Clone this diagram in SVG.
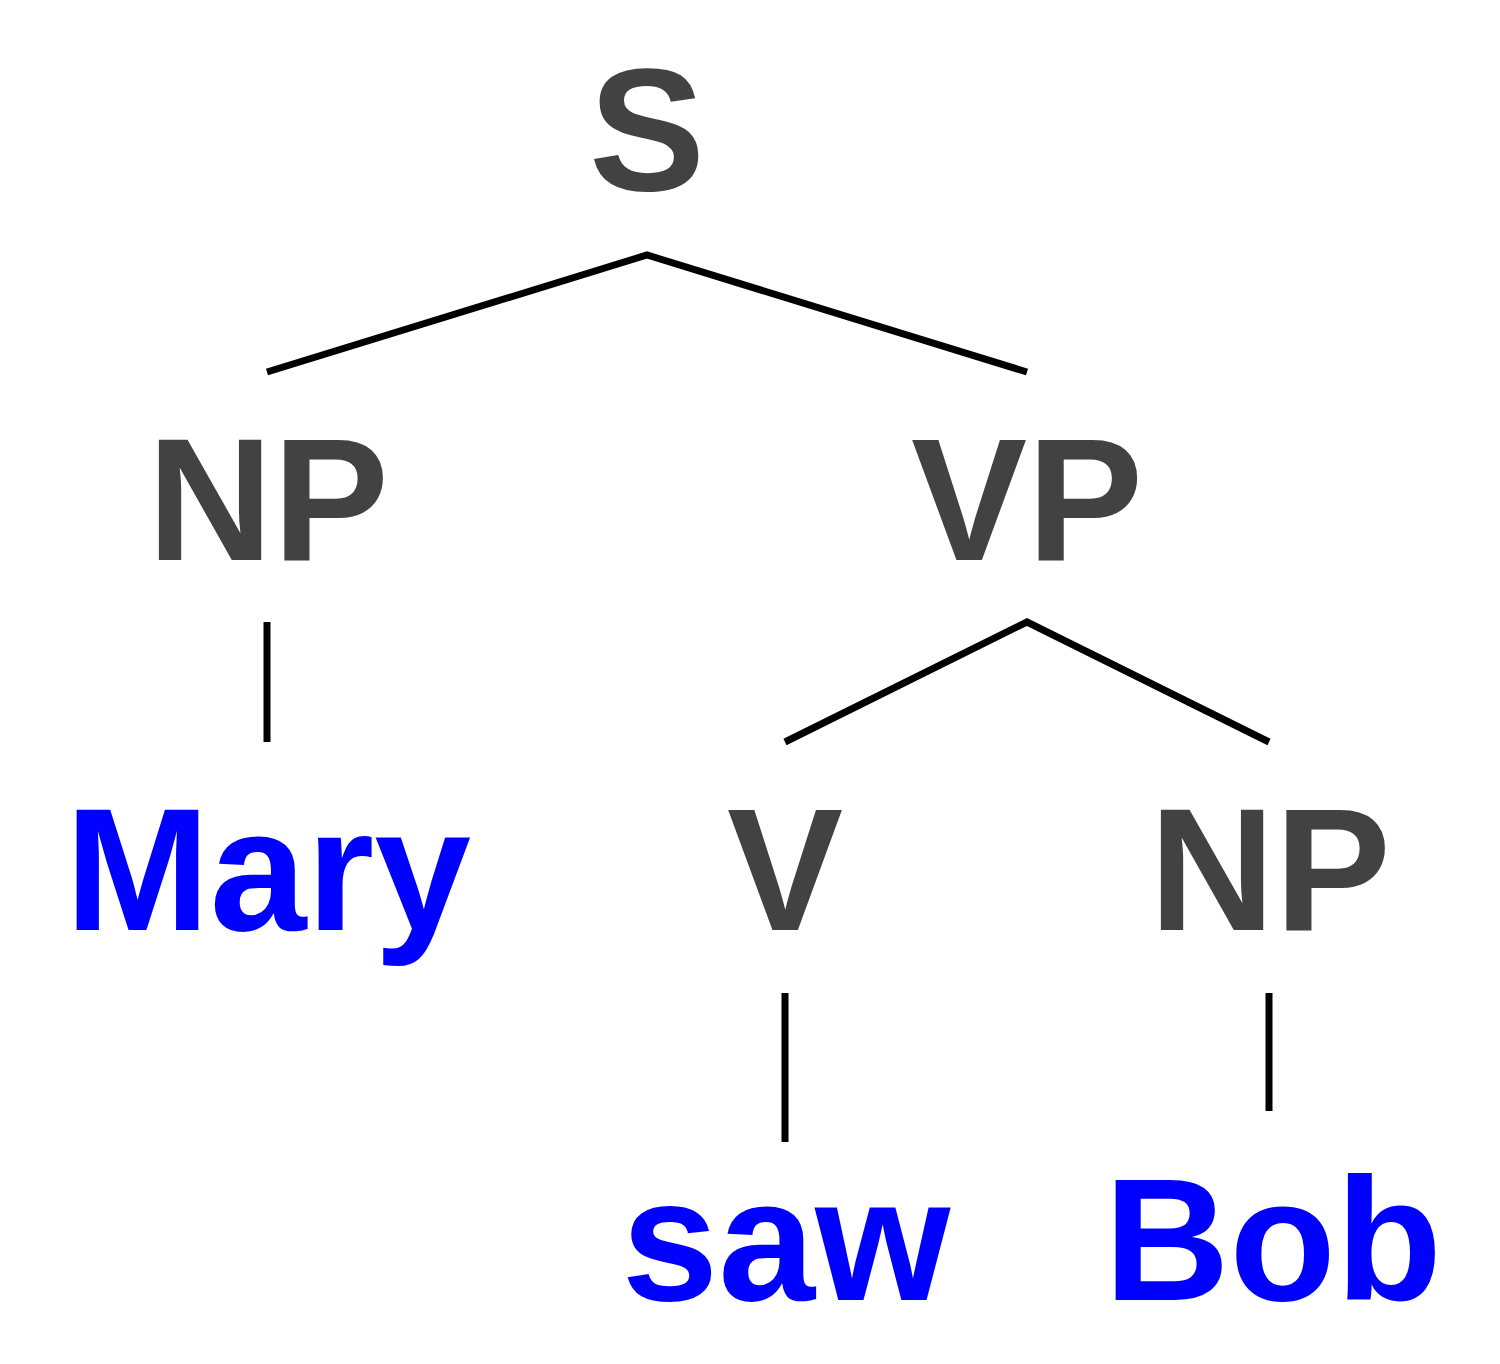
<svg xmlns="http://www.w3.org/2000/svg" width="1500" height="1364" viewBox="0 0 1500 1364">
<style>
.cat{font-family:"Liberation Sans",Arial,sans-serif;font-weight:bold;font-size:174px;fill:#424242;text-anchor:middle}
.word{font-family:"Liberation Sans",Arial,sans-serif;font-weight:bold;font-size:174px;fill:#0000FF;text-anchor:middle}
.edge{stroke:#000;stroke-width:7;fill:none}
</style>
<rect width="1500" height="1364" fill="#fff"/>
<g id="connectors">
<path class="edge" d="M267,372 L647,255 L1027,372"/>
<path class="edge" d="M267,622 L267,742"/>
<path class="edge" d="M785,742 L1027,622 L1269,742"/>
<path class="edge" d="M785,993 L785,1142"/>
<path class="edge" d="M1269,993 L1269,1111"/>
</g>
<g id="S"><text class="cat" x="647" y="190">S</text></g>
<g id="NP1"><text class="cat" x="268" y="560">NP</text></g>
<g id="VP"><text class="cat" x="1027" y="560">VP</text></g>
<g id="Mary"><text class="word" x="268" y="930">Mary</text></g>
<g id="V"><text class="cat" x="785" y="930">V</text></g>
<g id="NP2"><text class="cat" x="1270" y="930">NP</text></g>
<g id="saw"><text class="word" x="786" y="1300">saw</text></g>
<g id="Bob"><text class="word" x="1273" y="1300">Bob</text></g>
</svg>
